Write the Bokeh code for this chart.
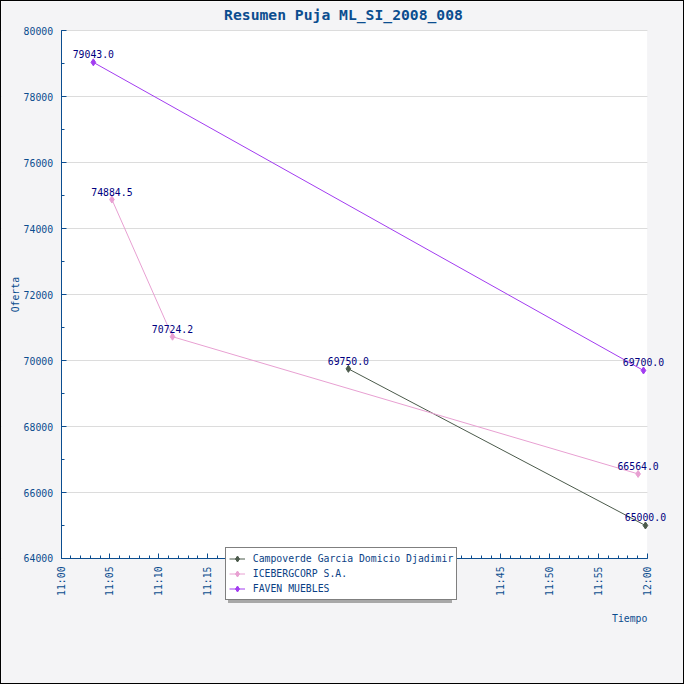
from datetime import datetime, timedelta
import math
from bokeh.plotting import figure
from bokeh.models import (Range1d, SingleIntervalTicker, DatetimeTickFormatter,
                          BasicTickFormatter, Legend, LegendItem, Label, LabelSet,
                          ColumnDataSource, BoxAnnotation)
from bokeh.core.properties import value
from bokeh.embed import file_html
from bokeh.resources import INLINE

# ---------------- data ----------------
title_text = "Resumen Puja ML_SI_2008_008"
series_names = ["Campoverde Garcia Domicio Djadimir", "ICEBERGCORP S.A.", "FAVEN MUEBLES"]
campoverde_times = ["11:29:24", "11:59:48"]
campoverde_values = [69750.0, 65000.0]
iceberg_times = ["11:05:12", "11:11:24", "11:59:03"]
iceberg_values = [74884.5, 70724.2, 66564.0]
faven_times = ["11:03:18", "11:59:36"]
faven_values = [79043.0, 69700.0]
series_colors = ["#4b5a4b", "#e8a0d2", "#a23cf0"]
x_start, x_end = "11:00:00", "12:00:00"
y_start, y_end = 64000, 80000
x_label = "Tiempo"
y_label = "Oferta"
day = "2008-01-01"

# ---------------- layout (reference pixels, 700x700 design) ----------------
REF = 700.0
SIZE = 684
S = SIZE / REF
AREA_L, AREA_R, AREA_T, AREA_B = 61.0, 661.0, 30.0, 570.0

BLUE = "#0b4d8f"
NAVY = "#000080"
BG = "#f4f4f6"
FONT = "DejaVu Sans Mono"
FS = "%.1fpx" % (10 * S)


def t(s):
    return datetime.strptime(day + " " + s, "%Y-%m-%d %H:%M:%S")


def ms(dt):
    return (dt - datetime(1970, 1, 1)).total_seconds() * 1000.0


T0, T1 = t(x_start), t(x_end)
sec_per_px = (T1 - T0).total_seconds() / (AREA_R - AREA_L)
val_per_px = (y_end - y_start) / (AREA_B - AREA_T)


def x_at(px):
    return T0 + timedelta(seconds=(px - AREA_L) * sec_per_px)


def y_at(py):
    return y_end - (py - AREA_T) * val_per_px


p = figure(width=SIZE, height=SIZE, x_axis_type="datetime",
           x_range=Range1d(x_at(0), x_at(REF)),
           y_range=Range1d(y_at(REF), y_at(0)),
           output_backend="svg", toolbar_location=None,
           min_border=0, min_border_left=0, min_border_right=0,
           min_border_top=0, min_border_bottom=0,
           border_fill_color=BG, background_fill_color=BG,
           styles={"border": "1px solid black"})
p.outline_line_color = None

# plot area background and grid masking
p.add_layout(BoxAnnotation(left=T0, right=T1, bottom=y_start, top=y_end,
                           fill_color="white", fill_alpha=1, line_color=None,
                           level="image"))
p.xgrid.grid_line_color = None
p.ygrid.grid_line_color = "#dcdcdc"
p.ygrid.bounds = (y_start, y_end)
p.add_layout(BoxAnnotation(right=T0, fill_color=BG, fill_alpha=1,
                           line_color=None, level="underlay"))
p.add_layout(BoxAnnotation(left=T1, fill_color=BG, fill_alpha=1,
                           line_color=None, level="underlay"))

# axes
for ax in (p.xaxis[0], p.yaxis[0]):
    ax.axis_line_color = BLUE
    ax.major_tick_line_color = BLUE
    ax.minor_tick_line_color = BLUE
    ax.major_tick_in = 5
    ax.major_tick_out = 0
    ax.minor_tick_in = 3
    ax.minor_tick_out = 0
    ax.major_label_text_font = FONT
    ax.major_label_text_font_size = FS
    ax.major_label_text_color = BLUE
    ax.major_label_standoff = 8

p.xaxis.ticker = SingleIntervalTicker(interval=5 * 60 * 1000, num_minor_ticks=5)
p.xaxis.formatter = DatetimeTickFormatter(minutes="%H:%M", hours="%H:%M",
                                          minsec="%H:%M", seconds="%H:%M")
p.xaxis.major_label_orientation = math.pi / 2
p.xaxis.bounds = (T0, T1)
p.xaxis.fixed_location = y_start

p.yaxis.ticker = SingleIntervalTicker(interval=2000, num_minor_ticks=2)
p.yaxis.formatter = BasicTickFormatter(use_scientific=False)
p.yaxis.bounds = (y_start, y_end)
p.yaxis.fixed_location = ms(T0)

# series
all_times = [campoverde_times, iceberg_times, faven_times]
all_values = [campoverde_values, iceberg_values, faven_values]
items = []
for name, times, vals, col in zip(series_names, all_times, all_values, series_colors):
    src = ColumnDataSource(dict(x=[t(s) for s in times], y=vals,
                                lab=["%.1f" % v for v in vals]))
    rl = p.line("x", "y", source=src, line_color=col, line_width=1)
    rs = p.scatter("x", "y", source=src, marker="diamond", size=7,
                   fill_color=col, line_color=col)
    p.add_layout(LabelSet(x="x", y="y", text="lab", source=src, y_offset=4,
                          text_align="center", text_baseline="bottom",
                          text_font=value(FONT), text_font_size=value(FS),
                          text_color=NAVY))
    items.append((name, [rl, rs]))

# legend with drop shadow
LEG_L, LEG_B = 229.0, 613.0
loc_x = LEG_L * S
loc_y = (REF - LEG_B) * S
shadow = Legend(items=[LegendItem(label=n, renderers=r) for n, r in items],
                location=(loc_x + 3, loc_y - 3))
main = Legend(items=[LegendItem(label=n, renderers=r) for n, r in items],
              location=(loc_x, loc_y))
for lg in (shadow, main):
    lg.label_text_font = FONT
    lg.label_text_font_size = FS
    lg.glyph_width = 16
    lg.glyph_height = 15
    lg.label_height = 15
    lg.spacing = 0
    lg.padding = 3
    lg.margin = 0
    lg.label_standoff = 8
    lg.background_fill_alpha = 1
shadow.label_text_color = "#a8a8a8"
shadow.background_fill_color = "#a8a8a8"
shadow.border_line_color = None
main.label_text_color = "#0b3f85"
main.background_fill_color = "white"
main.border_line_color = "black"
main.border_line_width = 1
p.add_layout(shadow)
p.add_layout(main)

# texts: title and axis names
p.add_layout(Label(x=x_at(350), y=y_at(13), text=title_text,
                   text_align="center", text_baseline="middle",
                   text_font=FONT, text_font_size="%.1fpx" % (15 * S),
                   text_font_style="bold", text_color=BLUE))
p.add_layout(Label(x=T1, y=y_at(631), text=x_label,
                   text_align="right", text_baseline="middle",
                   text_font=FONT, text_font_size=FS, text_color=BLUE))
p.add_layout(Label(x=x_at(14), y=y_at(300), text=y_label, angle=math.pi / 2,
                   text_align="center", text_baseline="middle",
                   text_font=FONT, text_font_size=FS, text_color=BLUE))

open("out.html", "w").write(file_html(p, INLINE))
